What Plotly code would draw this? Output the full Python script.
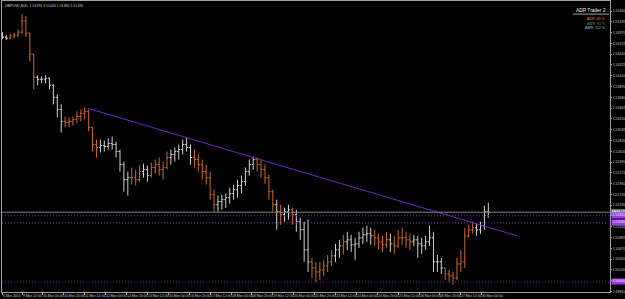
import plotly.graph_objects as go
import pandas as pd

# ---------------- data ----------------
symbol_title = "GBPUSD,M30  1.51395 1.51420 1.51380 1.51390"

# 3-hour bars (Fri 6 Mar 21:00, then every trading 3h from 9 Mar 00:00 to 30 Mar 09:00)
bar_times = ["2015-03-06 21:00"] + [
    t.strftime("%Y-%m-%d %H:%M")
    for t in pd.date_range("2015-03-09 00:00", "2015-03-30 09:00", freq="3h")
    if t.weekday() < 5
]

first_open = 1.5492
high = [1.5498, 1.5492, 1.5494, 1.5496, 1.5504, 1.5534, 1.5530, 1.5496, 1.5454, 1.5412,
        1.5410, 1.5412, 1.5408, 1.5394, 1.5374, 1.5354, 1.5330, 1.5328, 1.5330, 1.5340,
        1.5344, 1.5348, 1.5344, 1.5308, 1.5284, 1.5284, 1.5282, 1.5286, 1.5290, 1.5280,
        1.5264, 1.5240, 1.5220, 1.5228, 1.5224, 1.5232, 1.5236, 1.5232, 1.5238, 1.5244,
        1.5248, 1.5240, 1.5260, 1.5264, 1.5268, 1.5274, 1.5284, 1.5288, 1.5274, 1.5264,
        1.5254, 1.5244, 1.5234, 1.5220, 1.5184, 1.5172, 1.5174, 1.5176, 1.5188, 1.5194,
        1.5204, 1.5212, 1.5228, 1.5244, 1.5250, 1.5248, 1.5244, 1.5234, 1.5214, 1.5184,
        1.5164, 1.5154, 1.5148, 1.5154, 1.5148, 1.5144, 1.5128, 1.5120, 1.5124, 1.5048,
        1.5040, 1.5040, 1.5044, 1.5054, 1.5064, 1.5076, 1.5084, 1.5094, 1.5100, 1.5094,
        1.5088, 1.5100, 1.5108, 1.5112, 1.5108, 1.5104, 1.5096, 1.5092, 1.5100, 1.5096,
        1.5092, 1.5104, 1.5108, 1.5100, 1.5096, 1.5094, 1.5092, 1.5088, 1.5092, 1.5112,
        1.5100, 1.5054, 1.5048, 1.5028, 1.5024, 1.5020, 1.5048, 1.5064, 1.5108, 1.5114,
        1.5120, 1.5116, 1.5120, 1.5152, 1.5158]
low = [1.5484, 1.5482, 1.5484, 1.5486, 1.5488, 1.5494, 1.5488, 1.5440, 1.5384, 1.5392,
       1.5396, 1.5396, 1.5384, 1.5354, 1.5328, 1.5298, 1.5308, 1.5308, 1.5312, 1.5316,
       1.5320, 1.5324, 1.5300, 1.5260, 1.5248, 1.5258, 1.5260, 1.5264, 1.5264, 1.5248,
       1.5220, 1.5180, 1.5172, 1.5194, 1.5192, 1.5200, 1.5208, 1.5200, 1.5208, 1.5216,
       1.5212, 1.5204, 1.5224, 1.5234, 1.5240, 1.5244, 1.5254, 1.5260, 1.5234, 1.5228,
       1.5220, 1.5204, 1.5194, 1.5164, 1.5140, 1.5140, 1.5144, 1.5148, 1.5156, 1.5164,
       1.5168, 1.5176, 1.5192, 1.5212, 1.5224, 1.5220, 1.5208, 1.5196, 1.5164, 1.5140,
       1.5104, 1.5114, 1.5120, 1.5124, 1.5114, 1.5100, 1.5084, 1.5040, 1.5020, 1.5008,
       1.5000, 1.5004, 1.5012, 1.5020, 1.5032, 1.5040, 1.5048, 1.5054, 1.5064, 1.5060,
       1.5044, 1.5068, 1.5076, 1.5080, 1.5074, 1.5072, 1.5064, 1.5060, 1.5068, 1.5060,
       1.5056, 1.5068, 1.5074, 1.5068, 1.5064, 1.5072, 1.5048, 1.5056, 1.5064, 1.5072,
       1.5020, 1.5020, 1.5016, 1.5004, 1.5000, 1.4994, 1.5004, 1.5020, 1.5028, 1.5088,
       1.5096, 1.5092, 1.5096, 1.5104, 1.5128]
close = [1.5488, 1.5486, 1.5490, 1.5492, 1.5498, 1.5520, 1.5496, 1.5454, 1.5408, 1.5404,
         1.5404, 1.5406, 1.5392, 1.5368, 1.5344, 1.5320, 1.5318, 1.5320, 1.5324, 1.5330,
         1.5336, 1.5340, 1.5308, 1.5274, 1.5268, 1.5272, 1.5270, 1.5276, 1.5274, 1.5260,
         1.5234, 1.5204, 1.5208, 1.5208, 1.5204, 1.5220, 1.5224, 1.5212, 1.5228, 1.5234,
         1.5224, 1.5228, 1.5248, 1.5254, 1.5260, 1.5264, 1.5274, 1.5268, 1.5248, 1.5244,
         1.5234, 1.5220, 1.5208, 1.5174, 1.5154, 1.5160, 1.5164, 1.5168, 1.5176, 1.5184,
         1.5192, 1.5200, 1.5220, 1.5234, 1.5244, 1.5234, 1.5224, 1.5208, 1.5180, 1.5154,
         1.5140, 1.5134, 1.5140, 1.5144, 1.5134, 1.5120, 1.5104, 1.5064, 1.5040, 1.5028,
         1.5020, 1.5024, 1.5032, 1.5040, 1.5052, 1.5064, 1.5072, 1.5080, 1.5084, 1.5074,
         1.5076, 1.5088, 1.5094, 1.5096, 1.5092, 1.5088, 1.5080, 1.5074, 1.5084, 1.5076,
         1.5072, 1.5088, 1.5088, 1.5084, 1.5080, 1.5084, 1.5076, 1.5072, 1.5080, 1.5088,
         1.5040, 1.5040, 1.5028, 1.5016, 1.5012, 1.5008, 1.5036, 1.5040, 1.5092, 1.5104,
         1.5108, 1.5104, 1.5112, 1.5140, 1.5139]
# bar colouring: o = orange segment, w = white segment
bar_color = ("ww" "ooooooo" "wwwwwww" "ooooooooo" "wwwwwwww" "ooo" "ww" "ooooo" "wwwwww"
             "oooooo" "wwwwwwwwww" "ooooo" "w" "o" "ww" "o" "wwww" "oooooo" "ww" "o"
             "wwwwwww" "oooo" "w" "ooooo" "wwwwwwww" "oooooooo" "wwww")

trend_t = ["2015-03-11 14:30", "2015-03-31 07:00"]
trend_p = [1.5346, 1.5092]
level_prices = [1.5132, 1.5118, 1.5000]
current_price = close[-1]

x_tick_times = ["2015-03-06 21:00", "2015-03-09 12:00", "2015-03-10 04:00", "2015-03-10 20:00",
                "2015-03-11 12:00", "2015-03-12 04:00", "2015-03-12 20:00", "2015-03-13 12:00",
                "2015-03-16 04:00", "2015-03-16 20:00", "2015-03-17 12:00", "2015-03-18 04:00",
                "2015-03-18 20:00", "2015-03-19 12:00", "2015-03-20 04:00", "2015-03-20 20:00",
                "2015-03-23 12:00", "2015-03-24 04:00", "2015-03-24 20:00", "2015-03-25 12:00",
                "2015-03-26 04:00", "2015-03-26 20:00", "2015-03-27 12:00", "2015-03-30 04:00"]
x_tick_text = ["6 Mar 2015", "9 Mar 12:00", "10 Mar 04:00", "10 Mar 20:00", "11 Mar 12:00",
               "12 Mar 04:00", "12 Mar 20:00", "13 Mar 12:00", "16 Mar 04:00", "16 Mar 20:00",
               "17 Mar 12:00", "18 Mar 04:00", "18 Mar 20:00", "19 Mar 12:00", "20 Mar 04:00",
               "20 Mar 20:00", "23 Mar 12:00", "24 Mar 04:00", "24 Mar 20:00", "25 Mar 12:00",
               "26 Mar 04:00", "26 Mar 20:00", "27 Mar 12:00", "30 Mar 04:00"]
y_tick_vals = [1.55400, 1.55185, 1.54970, 1.54755, 1.54540, 1.54325, 1.54110, 1.53895,
               1.53680, 1.53465, 1.53250, 1.53035, 1.52820, 1.52605, 1.52390, 1.52175,
               1.51960, 1.51745, 1.51530, 1.51315, 1.51100, 1.50885, 1.50670, 1.50455,
               1.50240, 1.50025, 1.49810]
y_tick_text = ["%.5f" % v for v in y_tick_vals]

adr_lines = [("ADR: 63 %", "#E8876A"), ("AWR: 81 %", "#3FA34D"), ("AMR: 112 %", "#8CCBF0")]

# ---------------- figure ----------------
n = len(bar_times)
assert len(high) == n and len(low) == n and len(close) == n and len(bar_color) == n
opens = [first_open] + close[:-1]

ORANGE = "#CD6A1F"
WHITE = "#D0D0D0"
PURPLE = "#6E28C8"
PURPLE_TAG = "#9A3DE6"
AXIS = "#A0A0A0"
LABEL = "#C8C8C8"
FONT = "Liberation Sans"

fig = go.Figure()
for flag, col in (("w", WHITE), ("o", ORANGE)):
    idx = [i for i in range(n) if bar_color[i] == flag]
    fig.add_trace(go.Ohlc(
        x=[bar_times[i] for i in idx],
        open=[opens[i] for i in idx],
        high=[high[i] for i in idx],
        low=[low[i] for i in idx],
        close=[close[i] for i in idx],
        increasing=dict(line=dict(color=col, width=1)),
        decreasing=dict(line=dict(color=col, width=1)),
        tickwidth=0.4, hoverinfo="skip", showlegend=False,
    ))

fig.add_trace(go.Scatter(x=trend_t, y=trend_p, mode="lines",
                         line=dict(color=PURPLE, width=1), hoverinfo="skip", showlegend=False))

shapes = []
for p in level_prices:
    shapes.append(dict(type="line", xref="paper", x0=0, x1=1, yref="y", y0=p, y1=p,
                       line=dict(color=PURPLE, width=1, dash="1px,2px")))
shapes.append(dict(type="line", xref="paper", x0=0, x1=1, yref="y", y0=current_price,
                   y1=current_price, line=dict(color="#808080", width=1)))
# underline under indicator name
shapes.append(dict(type="line", xref="paper", x0=0.939, x1=0.998, yref="paper", y0=0.955,
                   y1=0.955, line=dict(color=AXIS, width=1)))

annotations = [
    dict(text=symbol_title, xref="paper", yref="paper", x=0, y=1, xanchor="left", yanchor="top",
         xshift=1, yshift=-1, showarrow=False, font=dict(family=FONT, size=3.5, color=LABEL)),
    dict(text="ADR Trader 2", xref="paper", yref="paper", x=0.997, y=0.969, xanchor="right",
         yanchor="middle", showarrow=False, font=dict(family=FONT, size=4.8, color="#F0F0F0")),
]
for k, (txt, col) in enumerate(adr_lines):
    annotations.append(dict(text=txt, xref="paper", yref="paper", x=0.997, y=0.938 - k * 0.0155,
                            xanchor="right", yanchor="middle", showarrow=False,
                            font=dict(family=FONT, size=3.6, color=col)))
tags = [(current_price, "#DCDCDC", "#000000")] + [(p, PURPLE_TAG, "#F4E8FF") for p in level_prices]
for p, bg, fc in tags:
    annotations.append(dict(text="%.5f" % p, xref="paper", yref="y", x=1, y=p, xanchor="left",
                            yanchor="middle", xshift=1, showarrow=False, bgcolor=bg, borderpad=0.3,
                            font=dict(family=FONT, size=3.5, color=fc)))
# time labels (left-aligned at their tick, just under the axis line, as in the terminal)
for t, txt in zip(x_tick_times, x_tick_text):
    annotations.append(dict(text=txt, xref="x", yref="paper", x=t, y=0, xanchor="left",
                            yanchor="middle", xshift=-0.5, yshift=-4, showarrow=False,
                            borderpad=0, font=dict(family=FONT, size=3.5, color=LABEL)))

fig.update_layout(
    width=625, height=299,
    margin=dict(l=2, r=15, t=1, b=7),
    paper_bgcolor="#000000", plot_bgcolor="#000000",
    shapes=shapes, annotations=annotations,
    xaxis=dict(type="date", range=["2015-03-06 20:40", "2015-04-03 06:10"],
               rangebreaks=[dict(bounds=["sat", "mon"])],
               rangeslider=dict(visible=False),
               tickvals=x_tick_times, showticklabels=False,
               ticks="outside", ticklen=2, tickcolor=AXIS,
               showgrid=False, zeroline=False, showline=True, linecolor=AXIS,
               linewidth=1, mirror=True, automargin=False, fixedrange=True),
    yaxis=dict(side="right", range=[1.4980, 1.5560],
               tickvals=y_tick_vals, ticktext=y_tick_text,
               ticks="outside", ticklen=1, tickcolor=AXIS,
               tickfont=dict(family=FONT, size=3.5, color=LABEL),
               showgrid=False, zeroline=False, showline=True, linecolor=AXIS,
               linewidth=1, mirror=True, automargin=False, fixedrange=True),
)

fig.write_html("out.html")
